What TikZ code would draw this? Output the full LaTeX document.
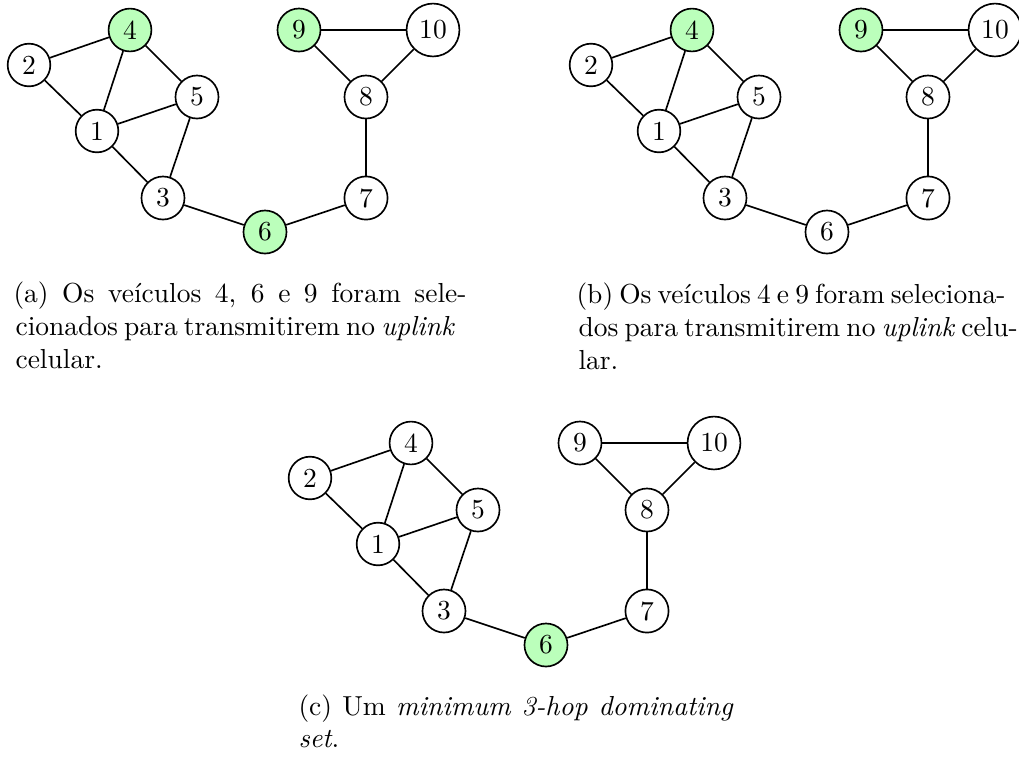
\documentclass[tikz,border=0pt]{standalone}
\usepackage{fontspec}
\definecolor{vgreen}{RGB}{187,255,187}
\tikzset{
  vtx/.style={circle, draw, line width=0.6pt, inner sep=2.55pt, font=\fontsize{10}{12}\selectfont},
  lnk/.style={line width=0.6pt},
  captxt/.style={anchor=base west, inner sep=0pt, font=\fontsize{10}{12}\selectfont},
  hl4/.style={}, hl6/.style={}, hl9/.style={},
  hlon/.style={fill=vgreen}
}
\newcommand{\mygraph}[1]{%
  \node[vtx] (#1-1) at (97,131) {1};
  \node[vtx] (#1-2) at (29,65) {2};
  \node[vtx] (#1-3) at (163,198) {3};
  \node[vtx,hl4] (#1-4) at (130,30) {4};
  \node[vtx] (#1-5) at (197,97) {5};
  \node[vtx,hl6] (#1-6) at (265,232) {6};
  \node[vtx] (#1-7) at (366,198) {7};
  \node[vtx] (#1-8) at (366,97) {8};
  \node[vtx,hl9] (#1-9) at (299,30) {9};
  \node[vtx] (#1-10) at (433,30) {10};
  \foreach \s/\t in {2/4,2/1,4/1,4/5,1/5,1/3,5/3,3/6,6/7,7/8,8/9,8/10,9/10}
    \draw[lnk] (#1-\s) -- (#1-\t);
}
\newcommand{\pw}[1]{\dimexpr0.3636pt*#1\relax}
\begin{document}
\begin{tikzpicture}[x=0.3636pt, y=-0.3636pt]
\useasboundingbox (0,0) rectangle (1019,756);
% (a)
\begin{scope}[hl4/.style={hlon}, hl6/.style={hlon}, hl9/.style={hlon}]
  \mygraph{a}
\end{scope}
% (b)
\begin{scope}[shift={(562,0)}, hl4/.style={hlon}, hl9/.style={hlon}]
  \mygraph{b}
\end{scope}
% (c)
\begin{scope}[shift={(281,413)}, hl6/.style={hlon}]
  \mygraph{c}
\end{scope}
% captions
\node[captxt] (capa1) at (13,302) {\hbox to \pw{453}{(a) Os veículos 4, 6 e 9 foram sele-}};
\node[captxt] (capa2) at (15,335) {\hbox to \pw{437}{cionados para transmitirem no \textit{uplink}}};
\node[captxt] (capa3) at (15,368) {celular.};
\node[captxt] (capb1) at (576,303) {\hbox to \pw{429}{(b) Os veículos 4 e 9 foram seleciona-}};
\node[captxt] (capb2) at (578,336) {\hbox to \pw{427}{dos para transmitirem no \textit{uplink} celu-}};
\node[captxt] (capb3) at (578,369) {lar.};
\node[captxt] (capc1) at (298,715) {\hbox to \pw{435}{(c) Um \textit{minimum 3-hop dominating}}};
\node[captxt] (capc2) at (298,747) {\textit{set}.};
\end{tikzpicture}
\end{document}
